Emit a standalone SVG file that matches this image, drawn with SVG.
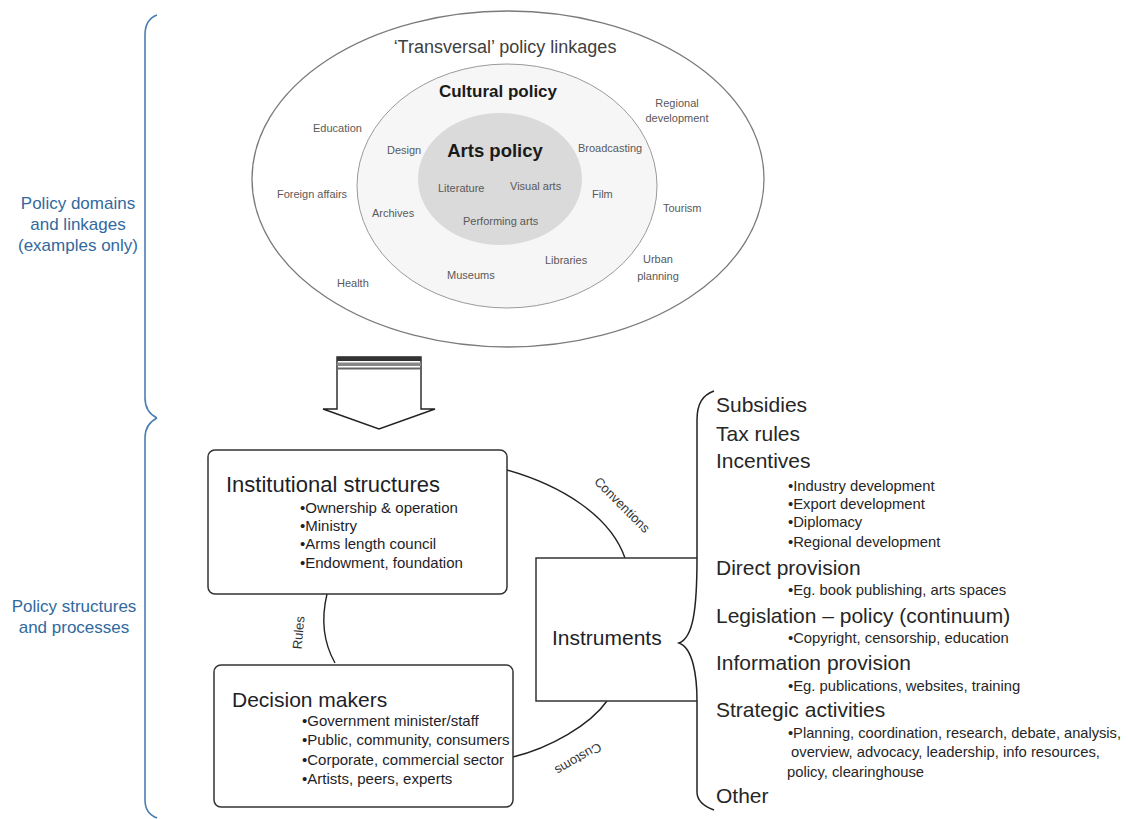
<svg xmlns="http://www.w3.org/2000/svg" width="1128" height="819" viewBox="0 0 1128 819">
<style>
text{font-family:"Liberation Sans",Arial,sans-serif}
.sm{font-size:11px;fill:#595959}
.blue{font-size:17px;fill:#31699e}
.brace{fill:none;stroke:#4a7fb0;stroke-width:1.6}
.box{fill:#fff;stroke:#333;stroke-width:1.5}
.ttl{fill:#1e1e28}
.bul{font-size:15px;fill:#1e1e28}
.hd{font-size:21px;fill:#262626}
.sb{font-size:14.8px;fill:#262626}
.conn{fill:none;stroke:#222;stroke-width:1.4}
.lbl{font-size:13px;fill:#333}
</style>
<rect width="1128" height="819" fill="#fff"/>
<g id="left-labels">
<path class="brace" d="M157,15 C149,18 145,25 145,35 L145,398 C145,408 149,414 157,418"/>
<path class="brace" d="M157,418 C149,422 145,428 145,438 L145,800 C145,810 149,815 157,818"/>
<text class="blue" x="78" y="209" text-anchor="middle">Policy domains</text>
<text class="blue" x="78" y="230" text-anchor="middle">and linkages</text>
<text class="blue" x="78" y="251" text-anchor="middle">(examples only)</text>
<text class="blue" x="74" y="612" text-anchor="middle">Policy structures</text>
<text class="blue" x="74" y="633" text-anchor="middle">and processes</text>
</g>
<g id="policy-domains">
<ellipse cx="508" cy="179" rx="256" ry="168" fill="#fff" stroke="#7a7a7a" stroke-width="1.3"/>
<ellipse cx="507" cy="186" rx="150" ry="122" fill="#f6f6f6" stroke="#9a9a9a" stroke-width="1"/>
<ellipse cx="500" cy="179" rx="82" ry="66" fill="#dadada"/>
<text x="505" y="53" text-anchor="middle" font-size="18" fill="#404040">‘Transversal’ policy linkages</text>
<text x="498" y="97" text-anchor="middle" font-size="17" font-weight="bold" fill="#1a1a1a">Cultural policy</text>
<text x="495" y="157" text-anchor="middle" font-size="18.5" font-weight="bold" fill="#1a1a1a">Arts policy</text>
<text class="sm" x="313" y="132">Education</text>
<text class="sm" x="387" y="154">Design</text>
<text class="sm" x="677" y="107" text-anchor="middle">Regional</text>
<text class="sm" x="677" y="122" text-anchor="middle">development</text>
<text class="sm" x="578" y="152">Broadcasting</text>
<text class="sm" x="277" y="198">Foreign affairs</text>
<text class="sm" x="372" y="217">Archives</text>
<text class="sm" x="438" y="192">Literature</text>
<text class="sm" x="510" y="190">Visual arts</text>
<text class="sm" x="463" y="225">Performing arts</text>
<text class="sm" x="592" y="198">Film</text>
<text class="sm" x="663" y="212">Tourism</text>
<text class="sm" x="337" y="287">Health</text>
<text class="sm" x="447" y="279">Museums</text>
<text class="sm" x="545" y="264">Libraries</text>
<text class="sm" x="658" y="263" text-anchor="middle">Urban</text>
<text class="sm" x="658" y="280" text-anchor="middle">planning</text>
</g>
<g id="down-arrow">
<path d="M337,357 L337,409 L323,409 L379,429 L435,409 L421,409 L421,357 Z" fill="#fff" stroke="#222" stroke-width="1.4"/>
<rect x="337" y="357" width="84" height="4" fill="#333"/>
<rect x="337" y="362.5" width="84" height="3.5" fill="#888"/>
<rect x="337" y="367.5" width="84" height="2" fill="#666"/>
</g>
<g id="connectors">
<path class="conn" d="M507,470 C560,485 610,515 625,558"/>
<path class="conn" d="M327,594 C322,615 322,640 335,663"/>
<path class="conn" d="M513,757 C550,748 590,725 607,701"/>
<text class="lbl" text-anchor="middle" transform="translate(619,508) rotate(45)">Conventions</text>
<text class="lbl" text-anchor="middle" transform="translate(303,633) rotate(-85)">Rules</text>
<text class="lbl" text-anchor="middle" transform="translate(576,755) rotate(150)">Customs</text>
</g>
<g id="institutional-structures">
<rect class="box" x="208" y="450" width="299" height="144" rx="7"/>
<text class="ttl" x="226" y="492" font-size="22">Institutional structures</text>
<text class="bul" x="300" y="513">•Ownership &amp; operation</text>
<text class="bul" x="300" y="531">•Ministry</text>
<text class="bul" x="300" y="549">•Arms length council</text>
<text class="bul" x="300" y="568">•Endowment, foundation</text>
</g>
<g id="decision-makers">
<rect class="box" x="214" y="665" width="299" height="142" rx="7"/>
<text class="ttl" x="232" y="707" font-size="21">Decision makers</text>
<text class="bul" x="302" y="726">•Government minister/staff</text>
<text class="bul" x="302" y="745">•Public, community, consumers</text>
<text class="bul" x="302" y="765">•Corporate, commercial sector</text>
<text class="bul" x="302" y="784">•Artists, peers, experts</text>
</g>
<g id="instruments">
<path d="M697,558 L536,558 L536,701 L697,701" fill="#fff" stroke="#333" stroke-width="1.5"/>
<path d="M714,391 C703,395 697,403 697,420 L697,558 C697,610 693,638 679,643 C693,648 697,676 697,701 L697,792 C697,801 703,806 714,810" fill="none" stroke="#222" stroke-width="1.5"/>
<text class="ttl" x="552" y="645" font-size="21">Instruments</text>
</g>
<g id="instrument-list">
<text class="hd" x="716" y="412">Subsidies</text>
<text class="hd" x="716" y="441">Tax rules</text>
<text class="hd" x="716" y="468">Incentives</text>
<text class="sb" x="788" y="491">•Industry development</text>
<text class="sb" x="788" y="509">•Export development</text>
<text class="sb" x="788" y="527">•Diplomacy</text>
<text class="sb" x="788" y="547">•Regional development</text>
<text class="hd" x="716" y="575">Direct provision</text>
<text class="sb" x="788" y="595">•Eg. book publishing, arts spaces</text>
<text class="hd" x="716" y="623">Legislation – policy (continuum)</text>
<text class="sb" x="788" y="643">•Copyright, censorship, education</text>
<text class="hd" x="716" y="670">Information provision</text>
<text class="sb" x="788" y="691">•Eg. publications, websites, training</text>
<text class="hd" x="716" y="717">Strategic activities</text>
<text class="sb" x="788" y="738" textLength="333" lengthAdjust="spacingAndGlyphs">•Planning, coordination, research, debate, analysis,</text>
<text class="sb" x="791" y="757">overview, advocacy, leadership, info resources,</text>
<text class="sb" x="787" y="777">policy, clearinghouse</text>
<text class="hd" x="716" y="803">Other</text>
</g>
</svg>
